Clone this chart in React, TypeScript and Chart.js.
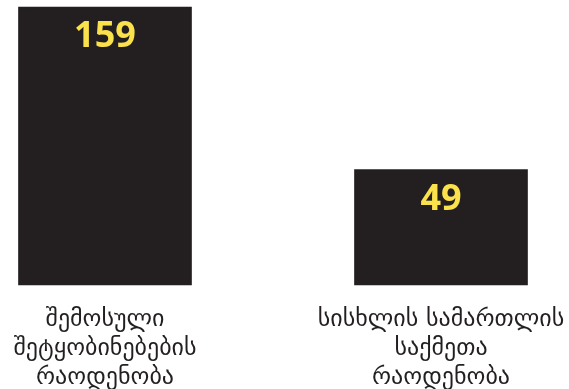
import React, { useEffect, useRef } from "react";
import { Chart, registerables } from "chart.js";

Chart.register(...registerables);

const categories: string[][] = [
  ["შემოსული", "შეტყობინებების", "რაოდენობა"],
  ["სისხლის სამართლის", "საქმეთა", "რაოდენობა"],
];
const values: number[] = [159, 49];
const axisMin = -29;
const axisMax = 159;

const BAR_COLOR = "#231f20";
const LABEL_COLOR = "#fbe14b";

const valueLabels = {
  id: "valueLabels",
  afterDatasetsDraw(chart: any) {
    const ctx = chart.ctx;
    const meta = chart.getDatasetMeta(0);
    ctx.save();
    ctx.fillStyle = LABEL_COLOR;
    ctx.font = "bold 36px 'Open Sans'";
    ctx.textAlign = "center";
    ctx.textBaseline = "top";
    meta.data.forEach((bar: any, i: number) => {
      ctx.fillText(String(values[i]), bar.x, bar.y + 12);
    });
    ctx.restore();
  },
};

export default function App() {
  const ref = useRef<HTMLCanvasElement>(null);
  useEffect(() => {
    document.body.style.margin = "0";
    const chart = new Chart(ref.current!, {
      type: "bar",
      data: {
        labels: categories,
        datasets: [
          {
            data: values,
            base: axisMin,
            backgroundColor: BAR_COLOR,
            barThickness: 173,
            borderWidth: 0,
            clip: false,
          } as any,
        ],
      },
      options: {
        animation: false,
        responsive: false,
        layout: { padding: { left: 105, right: 128, top: 7, bottom: -15 } },
        plugins: { legend: { display: false }, tooltip: { enabled: false } },
        scales: {
          x: {
            offset: false,
            grid: { display: false },
            border: { display: false },
            ticks: {
              color: "#231f20",
              font: { family: "'DejaVu Sans'", size: 24, lineHeight: 1.21 },
              padding: 12,
              maxRotation: 0,
              autoSkip: false,
            },
            afterFit: (scale: any) => {
              scale.paddingLeft = 0;
              scale.paddingRight = 0;
            },
          },
          y: {
            display: false,
            min: axisMin,
            max: axisMax,
          },
        },
      },
      plugins: [valueLabels],
    });
    return () => chart.destroy();
  }, []);
  return (
    <div style={{ position: "absolute", left: 0, top: 0, width: 569, height: 389 }}>
      <canvas ref={ref} width={569} height={389} />
    </div>
  );
}
